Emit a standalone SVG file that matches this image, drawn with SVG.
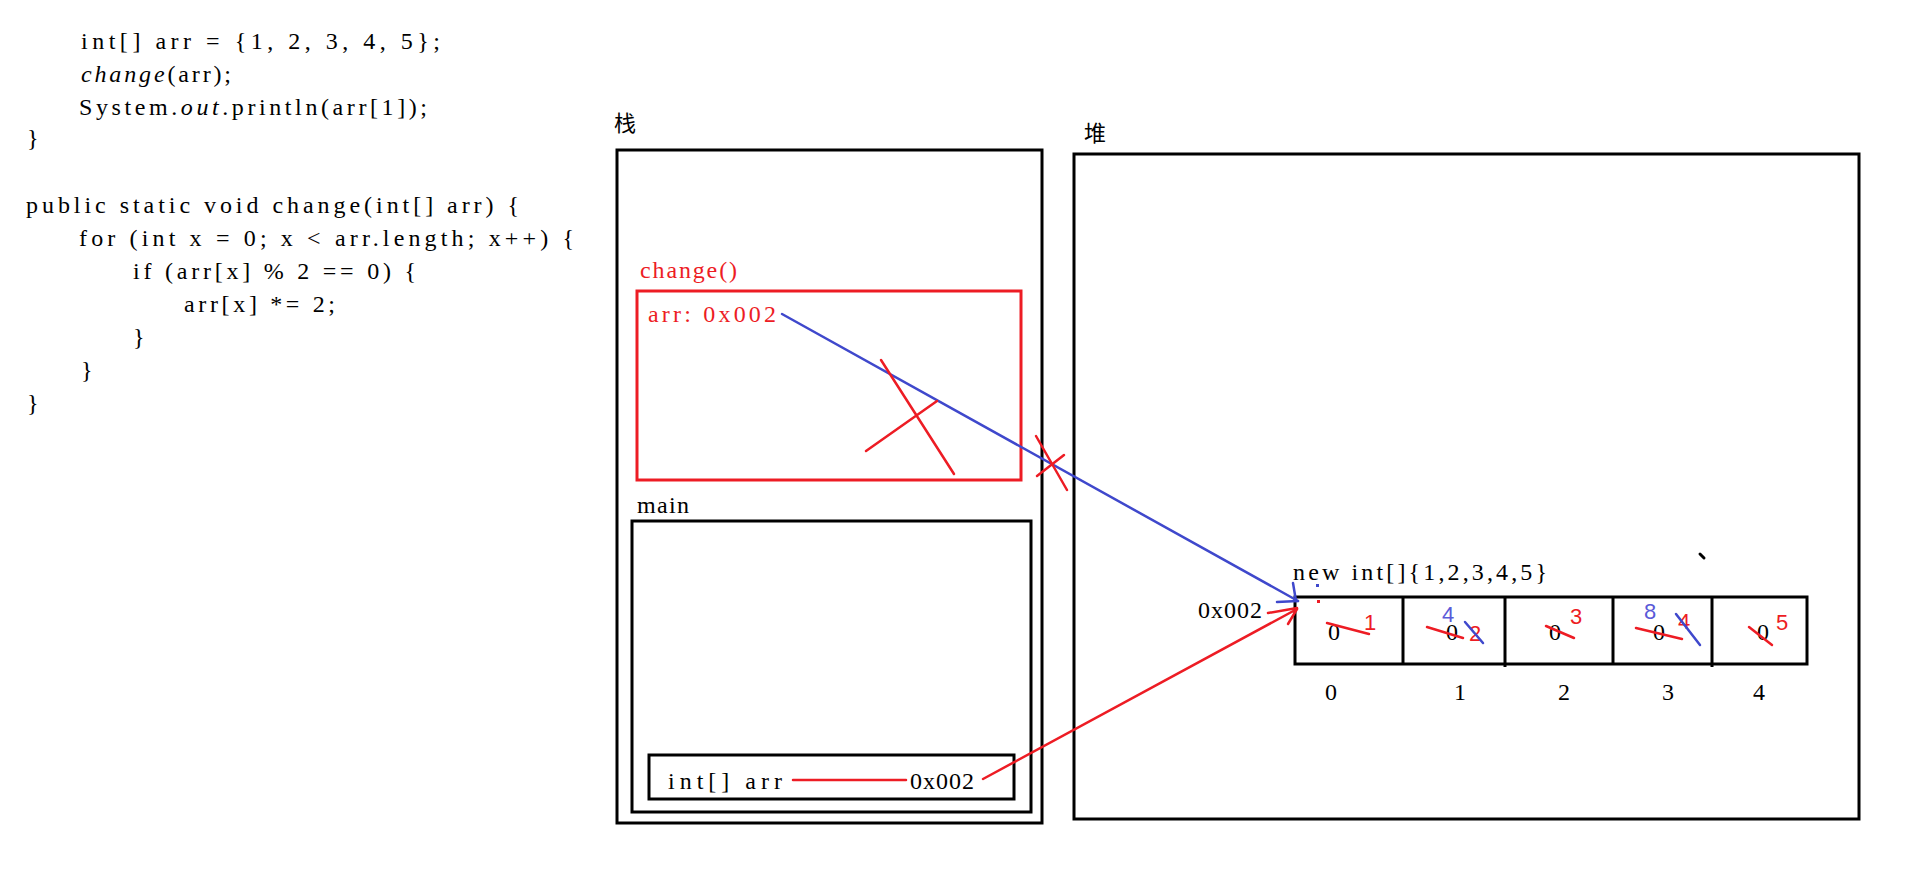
<svg xmlns="http://www.w3.org/2000/svg" width="1914" height="881" viewBox="0 0 1914 881">
<style>
.code{font-family:"Liberation Serif","Noto Sans CJK SC",serif;font-size:24px;fill:#000}
.it{font-style:italic}
.lbl{font-family:"Liberation Serif","Noto Sans CJK SC",serif;font-size:24px;fill:#000}
.red{fill:#ED1C24}
.cjk{font-family:"Noto Sans CJK SC",sans-serif;font-size:22px;fill:#000}
.box{fill:none;stroke:#000;stroke-width:3}
.rbox{fill:none;stroke:#ED1C24;stroke-width:3}
.rl{stroke:#ED1C24;stroke-width:2.5;fill:none;stroke-linecap:round}
.bl{stroke:#3F48CC;stroke-width:2.5;fill:none;stroke-linecap:round}
.dig{font-family:"Liberation Sans",Arial,sans-serif;font-size:22px}
.rd{fill:#ED1C24}
.bd{fill:#5A5AD8}
.mid{text-anchor:middle}
</style>
<rect width="1914" height="881" fill="#fff"/>
<g id="code">
<text class="code" x="81" y="49" textLength="359" lengthAdjust="spacing">int[] arr = {1, 2, 3, 4, 5};</text>
<text class="code" x="81" y="82" textLength="150" lengthAdjust="spacing"><tspan class="it">change</tspan>(arr);</text>
<text class="code" x="79" y="115" textLength="348" lengthAdjust="spacing">System.<tspan class="it">out</tspan>.println(arr[1]);</text>
<text class="code" x="27" y="146">}</text>
<text class="code" x="26" y="213" textLength="493" lengthAdjust="spacing">public static void change(int[] arr) {</text>
<text class="code" x="79" y="246" textLength="495" lengthAdjust="spacing">for (int x = 0; x &lt; arr.length; x++) {</text>
<text class="code" x="133" y="279" textLength="283" lengthAdjust="spacing">if (arr[x] % 2 == 0) {</text>
<text class="code" x="184" y="312" textLength="151" lengthAdjust="spacing">arr[x] *= 2;</text>
<text class="code" x="133" y="345">}</text>
<text class="code" x="81" y="378">}</text>
<text class="code" x="27" y="411">}</text>
</g>
<g id="stack">
<text class="cjk" x="614" y="131">栈</text>
<rect class="box" x="617" y="150" width="425" height="673"/>
</g>
<g id="change-frame">
<text class="lbl red" x="640" y="278" textLength="97" lengthAdjust="spacing">change()</text>
<rect class="rbox" x="637" y="291" width="384" height="189"/>
<text class="lbl red" x="648" y="322" textLength="128" lengthAdjust="spacing">arr: 0x002</text>
</g>
<g id="main-frame">
<text class="lbl" x="637" y="513" textLength="52" lengthAdjust="spacing">main</text>
<rect class="box" x="632" y="521" width="399" height="291"/>
<rect class="box" x="649" y="755" width="365" height="44"/>
<text class="lbl" x="668" y="789" textLength="114" lengthAdjust="spacing">int[] arr</text>
<line class="rl" x1="793" y1="780" x2="906" y2="780" stroke-width="3"/>
<text class="lbl" x="910" y="789" textLength="64" lengthAdjust="spacing">0x002</text>
</g>
<g id="heap">
<text class="cjk" x="1084" y="141">堆</text>
<rect class="box" x="1074" y="154" width="785" height="665"/>
</g>
<g id="array">
<text class="lbl" x="1293" y="580" textLength="254" lengthAdjust="spacing">new int[]{1,2,3,4,5}</text>
<text class="lbl" x="1198" y="618" textLength="64" lengthAdjust="spacing">0x002</text>
<rect class="box" x="1295" y="597" width="512" height="67"/>
<line class="box" x1="1403" y1="597" x2="1403" y2="664"/>
<line class="box" x1="1505" y1="597" x2="1505" y2="667"/>
<line class="box" x1="1613" y1="597" x2="1613" y2="664"/>
<line class="box" x1="1712" y1="597" x2="1712" y2="667"/>
<text class="lbl mid" x="1334" y="640">0</text>
<text class="lbl mid" x="1452" y="640">0</text>
<text class="lbl mid" x="1555" y="640">0</text>
<text class="lbl mid" x="1659" y="640">0</text>
<text class="lbl mid" x="1763" y="640">0</text>
<text class="lbl mid" x="1331" y="700">0</text>
<text class="lbl mid" x="1460" y="700">1</text>
<text class="lbl mid" x="1564" y="700">2</text>
<text class="lbl mid" x="1668" y="700">3</text>
<text class="lbl mid" x="1759" y="700">4</text>
</g>
<g id="edits">
<line class="rl" x1="1327" y1="623" x2="1369" y2="634"/>
<text class="dig rd" x="1364" y="630">1</text>
<text class="dig bd" x="1442" y="622">4</text>
<line class="rl" x1="1427" y1="627" x2="1463" y2="638"/>
<text class="dig rd" x="1469" y="641">2</text>
<line class="bl" x1="1465" y1="622" x2="1483" y2="643"/>
<line class="rl" x1="1546" y1="626" x2="1574" y2="638"/>
<text class="dig rd" x="1570" y="624">3</text>
<text class="dig bd" x="1644" y="619">8</text>
<line class="rl" x1="1636" y1="628" x2="1682" y2="639"/>
<text class="dig rd" x="1678" y="629">4</text>
<line class="bl" x1="1676" y1="614" x2="1700" y2="645"/>
<line class="rl" x1="1749" y1="627" x2="1772" y2="645"/>
<text class="dig rd" x="1776" y="630">5</text>
<line x1="1700" y1="554" x2="1704" y2="558" stroke="#000" stroke-width="3" stroke-linecap="round"/>
</g>
<g id="connectors">
<line class="bl" x1="782" y1="314" x2="1298" y2="601"/>
<line class="bl" x1="1293" y1="583" x2="1296" y2="601"/>
<line class="bl" x1="1277" y1="602" x2="1298" y2="601"/>
<rect x="1316" y="584" width="3" height="3" fill="#3F48CC"/>
<line class="rl" x1="983" y1="779" x2="1297" y2="609"/>
<line class="rl" x1="1268" y1="613" x2="1297" y2="608"/>
<line class="rl" x1="1288" y1="624" x2="1297" y2="609"/>
<rect x="1317" y="600" width="3" height="3" fill="#ED1C24"/>
<line class="rl" x1="881" y1="360" x2="954" y2="474"/>
<line class="rl" x1="866" y1="451" x2="937" y2="401"/>
<line class="rl" x1="1036" y1="436" x2="1067" y2="490"/>
<line class="rl" x1="1037" y1="476" x2="1064" y2="455"/>
</g>
</svg>
